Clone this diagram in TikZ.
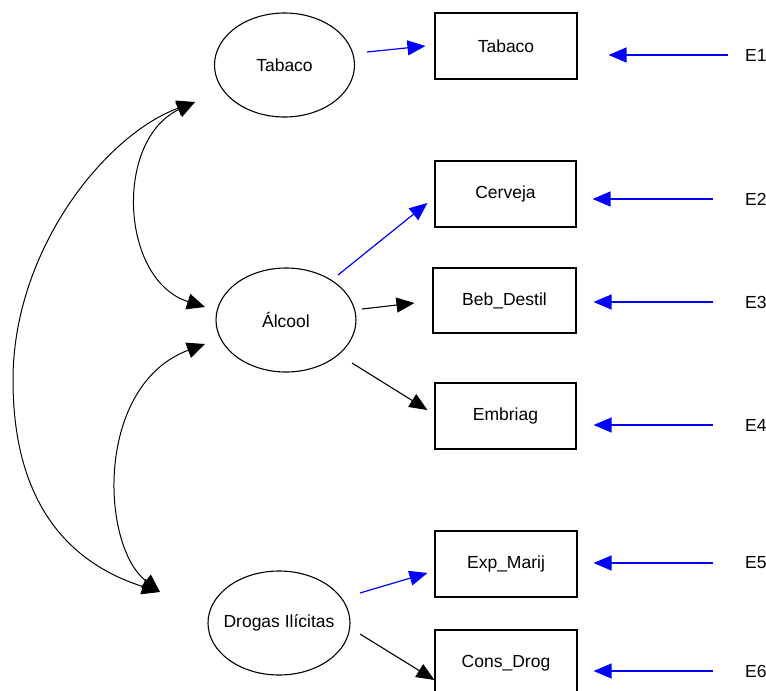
\documentclass[tikz,border=0pt]{standalone}
\usepackage{fontspec}
\setmainfont{Liberation Sans}
\usetikzlibrary{arrows.meta,shapes.geometric,calc}
\begin{document}
\begin{tikzpicture}[x=1pt,y=-1pt,
  every node/.style={font=\fontsize{17.5}{21}\selectfont},
  latent/.style={ellipse,draw,line width=1.1pt,minimum width=140pt,minimum height=104pt,inner sep=0pt},
  observed/.style={rectangle,draw,line width=1.1pt,minimum width=142pt,minimum height=66pt,inner sep=0pt},
  errlabel/.style={anchor=west,inner sep=0pt},
  headtip/.style={-{Triangle[length=18pt,width=15pt]}},
  bluearrow/.style={headtip,line width=1.2pt,blue},
  blackarrow/.style={headtip,line width=1.1pt,black},
  covar/.style={{Triangle[length=18pt,width=16pt]}-{Triangle[length=18pt,width=16pt]},line width=1pt}]

\useasboundingbox (0,0) rectangle (766,691);
\clip (0,0) rectangle (766,691);

% latent variables (zero-width text boxes keep the ellipse sizes fixed)
\node[latent] (lt) at (284.5,65)  {\makebox[0pt]{Tabaco}};
\node[latent] (la) at (286,320)   {\makebox[0pt]{Álcool}};
\node[latent,minimum width=142pt] (ld) at (279,623) {\makebox[0pt]{Drogas Ilícitas}};

% observed indicators
\node[observed] (mt) at (506,46)     {Tabaco};
\node[observed,minimum width=141pt] (mc) at (505.5,194) {Cerveja};
\node[observed,minimum width=143pt,minimum height=65pt] (mb) at (504.5,300.5) {Beb\_Destil};
\node[observed,minimum width=141pt] (me) at (505.5,416) {Embriag};
\node[observed] (mx) at (506,564)    {Exp\_Marij};
\node[observed] (mg) at (506,663)    {Cons\_Drog};

% error terms
\node[errlabel] (e1) at (745,55)  {E1};
\node[errlabel] (e2) at (745,199) {E2};
\node[errlabel] (e3) at (745,302) {E3};
\node[errlabel] (e4) at (745,425) {E4};
\node[errlabel] (e5) at (745,563) {E5};
\node[errlabel] (e6) at (745,671) {E6};

% loadings
\draw[bluearrow]  ($(lt)+(82.5,-13)$) -- ($(mt.west)+(-9,0)$);
\draw[bluearrow]  ($(la)+(52,-45)$)   -- ($(mc.west)+(-7,9)$);
\draw[blackarrow] ($(la)+(76,-11)$)   -- ($(mb.west)+(-18,2.5)$);
\draw[blackarrow] ($(la)+(66,43)$)    -- ($(me.west)+(-7,-6)$);
\draw[bluearrow]  ($(ld)+(81,-30)$)   -- ($(mx.west)+(-7,9)$);
\draw[blackarrow] ($(ld)+(81,11)$)    -- ($(mg.west)+(0,17)$);

% error paths
\draw[bluearrow,shorten <=17pt,shorten >=31pt] (e1.west) -- (e1.west -| mt.east);
\draw[bluearrow,shorten <=32pt,shorten >=16pt] (e2.west) -- (e2.west -| mc.east);
\draw[bluearrow,shorten <=32pt,shorten >=17pt] (e3.west) -- (e3.west -| mb.east);
\draw[bluearrow,shorten <=32pt,shorten >=17pt] (e4.west) -- (e4.west -| me.east);
\draw[bluearrow,shorten <=32pt,shorten >=16pt] (e5.west) -- (e5.west -| mx.east);
\draw[bluearrow,shorten <=32pt,shorten >=16pt] (e6.west) -- (e6.west -| mg.east);

% covariances
\draw[covar] ($(lt)+(-89.5,37)$) .. controls (114,140) and (120,280) .. ($(la)+(-81,-13)$);
\draw[covar] ($(lt)+(-89.5,37)$) .. controls (105,135) and (13,250) .. (13,380)
             .. controls (13,510) and (75,565) .. ($(ld)+(-119,-31)$);
\draw[covar] ($(la)+(-81,24)$) .. controls (95,385) and (100,545) .. ($(ld)+(-119,-31)$);
\end{tikzpicture}
\end{document}
